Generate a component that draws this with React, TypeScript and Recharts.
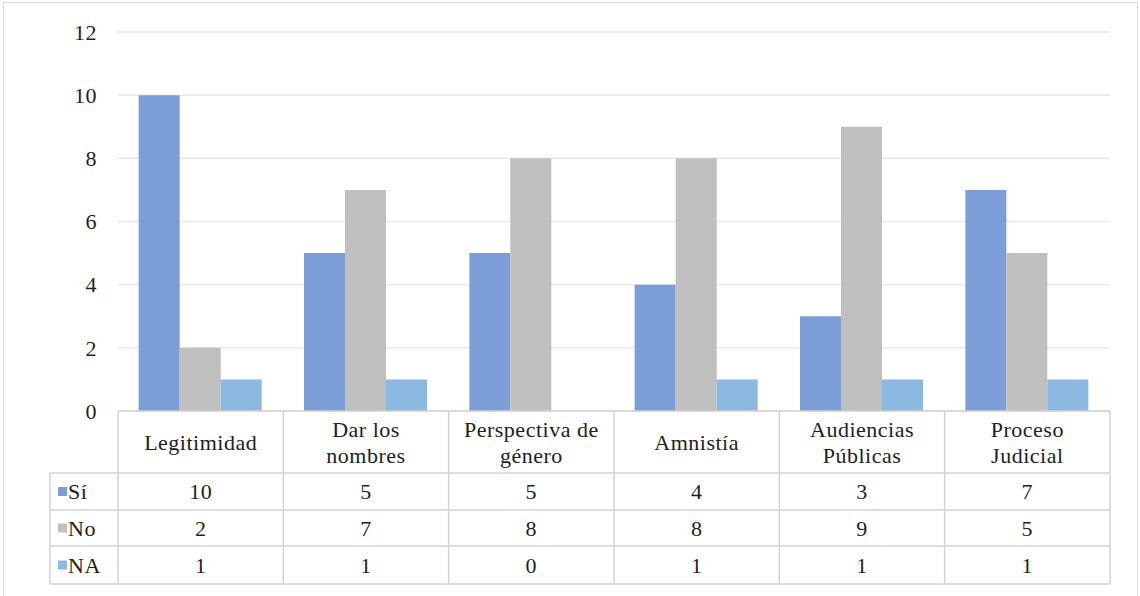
import React from 'react';
import { BarChart, Bar, XAxis, YAxis, CartesianGrid } from 'recharts';

// Categories (a "\n" splits a header cell into two lines)
const categories = [
  'Legitimidad',
  'Dar los\nnombres',
  'Perspectiva de\ngénero',
  'Amnistía',
  'Audiencias\nPúblicas',
  'Proceso\nJudicial',
];
const siValues = [10, 5, 5, 4, 3, 7];
const noValues = [2, 7, 8, 8, 9, 5];
const naValues = [1, 1, 0, 1, 1, 1];
const seriesNames = ['Sí', 'No', 'NA'];
const yTicks = [0, 2, 4, 6, 8, 10, 12];

const seriesKeys = ['si', 'no', 'na'];
const seriesValues = [siValues, noValues, naValues];
const COLORS = ['#7B9ED9', '#BFBFBF', '#8CB9E2'];

const data = categories.map((category, i) => ({
  category,
  si: siValues[i],
  no: noValues[i],
  na: naValues[i],
}));

const W = 1140;
const H = 596;
const PLOT_LEFT = 118;
const PLOT_RIGHT = 1110;
const PLOT_TOP = 32;
const PLOT_BOTTOM = 411;
const BAND = (PLOT_RIGHT - PLOT_LEFT) / categories.length;

const FONT = 'Liberation Serif, DejaVu Serif, Noto Serif, Tinos, serif';
const TEXT_FILL = '#1E1E1E';
const LINE = '#D3D3D3';

// Row boundaries of the data table, relative to the axis line
const HEADER_H = 62;
const ROW_EDGES = [62, 99, 135, 173];
const LEGEND_LEFT = 50;

const textStyle = { fontFamily: FONT, fontSize: 22, letterSpacing: 0.5 };

const textProps = {
  fill: TEXT_FILL,
  style: textStyle,
  textAnchor: 'middle' as const,
  dominantBaseline: 'central' as const,
};

// One column of the data table under each category
function TableColumn(props: any) {
  const { x, y, payload } = props;
  const index: number = payload.index;
  const left = x - BAND / 2;
  const right = x + BAND / 2;
  const lines = String(payload.value).split('\n');
  const bottom = y + ROW_EDGES[ROW_EDGES.length - 1];
  const isLast = index === categories.length - 1;

  return (
    <g>
      {/* top border and row separators */}
      <line x1={left} x2={right} y1={y} y2={y} stroke={LINE} strokeWidth={1.5} />
      {ROW_EDGES.map((r) => (
        <line key={r} x1={left} x2={right} y1={y + r} y2={y + r} stroke={LINE} strokeWidth={1.5} />
      ))}
      <line x1={left} x2={left} y1={y} y2={bottom} stroke={LINE} strokeWidth={1.5} />
      {isLast && <line x1={right} x2={right} y1={y} y2={bottom} stroke={LINE} strokeWidth={1.5} />}

      {/* header */}
      {lines.map((ln, li) => (
        <text key={li} x={x} y={y + HEADER_H / 2 + (li - (lines.length - 1) / 2) * 26} {...textProps}>
          {ln}
        </text>
      ))}

      {/* values */}
      {seriesValues.map((vals, si) => (
        <text
          key={si}
          x={x}
          y={y + (ROW_EDGES[si] + ROW_EDGES[si + 1]) / 2}
          {...textProps}
        >
          {vals[index]}
        </text>
      ))}

      {/* legend column, drawn once with the first column */}
      {index === 0 && (
        <g>
          {ROW_EDGES.map((r) => (
            <line key={r} x1={LEGEND_LEFT} x2={left} y1={y + r} y2={y + r} stroke={LINE} strokeWidth={1.5} />
          ))}
          <line x1={LEGEND_LEFT} x2={LEGEND_LEFT} y1={y + ROW_EDGES[0]} y2={bottom} stroke={LINE} strokeWidth={1.5} />
          {seriesNames.map((name, si) => {
            const cy = y + (ROW_EDGES[si] + ROW_EDGES[si + 1]) / 2;
            return (
              <g key={name}>
                <rect x={LEGEND_LEFT + 8} y={cy - 4.5} width={9} height={9} fill={COLORS[si]} />
                <text {...textProps} textAnchor="start" x={LEGEND_LEFT + 18} y={cy}>
                  {name}
                </text>
              </g>
            );
          })}
        </g>
      )}
    </g>
  );
}

export default function App() {
  return (
    <div style={{ position: 'absolute', left: 0, top: 0, width: W, height: H, background: '#fff', overflow: 'hidden' }}>
      <div
        style={{
          position: 'absolute',
          left: 3,
          top: 2,
          width: W - 7,
          height: H,
          borderTop: '1.5px solid #D9D9D9',
          borderLeft: '1.5px solid #D9D9D9',
          borderRight: '1.5px solid #D9D9D9',
        }}
      />
      <div style={{ position: 'absolute', left: 0, top: 0 }}>
        <BarChart
          width={W}
          height={H}
          data={data}
          margin={{ top: PLOT_TOP, right: W - PLOT_RIGHT, left: 0, bottom: 0 }}
          barCategoryGap="12.5%"
          barGap={0}
        >
          <CartesianGrid horizontal vertical={false} stroke="#E9E9E9" strokeWidth={1.5} />
          <YAxis
            width={PLOT_LEFT}
            domain={[0, 12]}
            ticks={yTicks}
            interval={0}
            axisLine={false}
            tickLine={false}
            tickSize={0}
            tickMargin={21}
            tick={{ fill: TEXT_FILL, style: textStyle }}
          />
          <XAxis
            dataKey="category"
            height={H - PLOT_BOTTOM}
            interval={0}
            axisLine={false}
            tickLine={false}
            tickSize={0}
            tickMargin={0}
            tick={<TableColumn />}
          />
          {seriesKeys.map((k, i) => (
            <Bar key={k} dataKey={k} name={seriesNames[i]} fill={COLORS[i]} isAnimationActive={false} />
          ))}
        </BarChart>
      </div>
    </div>
  );
}
